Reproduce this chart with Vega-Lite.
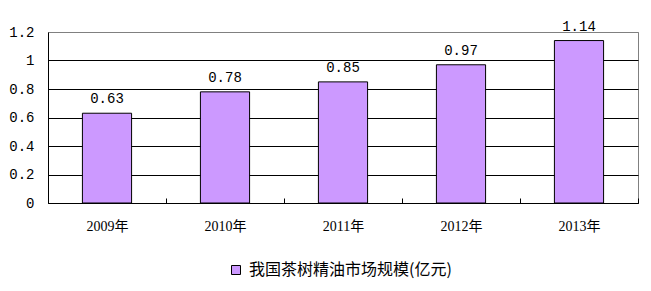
{
  "$schema": "https://vega.github.io/schema/vega-lite/v6.json",
  "autosize": {"type": "none"},
  "padding": {"left": 48, "top": 32, "right": 13, "bottom": 88},
  "width": 590,
  "height": 171,
  "background": "white",
  "data": {
    "values": [
      {"year": "2009年", "value": 0.63, "series": "我国茶树精油市场规模(亿元)"},
      {"year": "2010年", "value": 0.78, "series": "我国茶树精油市场规模(亿元)"},
      {"year": "2011年", "value": 0.85, "series": "我国茶树精油市场规模(亿元)"},
      {"year": "2012年", "value": 0.97, "series": "我国茶树精油市场规模(亿元)"},
      {"year": "2013年", "value": 1.14, "series": "我国茶树精油市场规模(亿元)"}
    ]
  },
  "encoding": {
    "x": {
      "field": "year",
      "type": "ordinal",
      "sort": null,
      "scale": {"paddingInner": 0, "paddingOuter": 0},
      "axis": {
        "title": null,
        "labelAngle": 0,
        "labelFont": "Liberation Serif, Noto Sans CJK SC",
        "labelFontSize": 14,
        "labelColor": "black",
        "labelPadding": 21,
        "domainColor": "black",
        "tickColor": "black",
        "tickBand": "extent",
        "tickSize": -5,
        "grid": false
      }
    },
    "y": {
      "field": "value",
      "type": "quantitative",
      "scale": {"domain": [0, 1.2], "nice": false},
      "axis": {
        "title": null,
        "values": [0, 0.2, 0.4, 0.6, 0.8, 1, 1.2],
        "format": "~g",
        "labelFont": "Liberation Mono",
        "labelFontSize": 14,
        "labelColor": "black",
        "labelPadding": 14,
        "ticks": false,
        "domainColor": "black",
        "grid": true,
        "gridColor": {"condition": {"test": "datum.value >= 1.1", "value": "#808080"}, "value": "black"},
        "gridOpacity": 1
      }
    }
  },
  "layer": [
    {
      "mark": {"type": "bar", "stroke": "black", "strokeWidth": 1, "width": {"band": 0.4167}},
      "encoding": {
        "color": {
          "field": "series",
          "type": "nominal",
          "scale": {"range": ["#CC99FF"]},
          "legend": {
            "title": null,
            "orient": "none",
            "legendX": 180,
            "legendY": 230,
            "symbolType": "square",
            "symbolSize": 81,
            "symbolStrokeColor": "black",
            "symbolStrokeWidth": 1,
            "symbolOpacity": 1,
            "labelFont": "Noto Sans CJK SC",
            "labelFontSize": 16,
            "labelColor": "black",
            "labelOffset": 5,
            "labelLimit": 400
          }
        }
      }
    },
    {
      "mark": {"type": "text", "dy": -10, "baseline": "alphabetic", "font": "Liberation Mono", "fontSize": 14, "color": "black"},
      "encoding": {
        "text": {"field": "value", "type": "quantitative", "format": ".2f"}
      }
    }
  ],
  "config": {
    "view": {"stroke": "#808080", "strokeWidth": 1}
  }
}
